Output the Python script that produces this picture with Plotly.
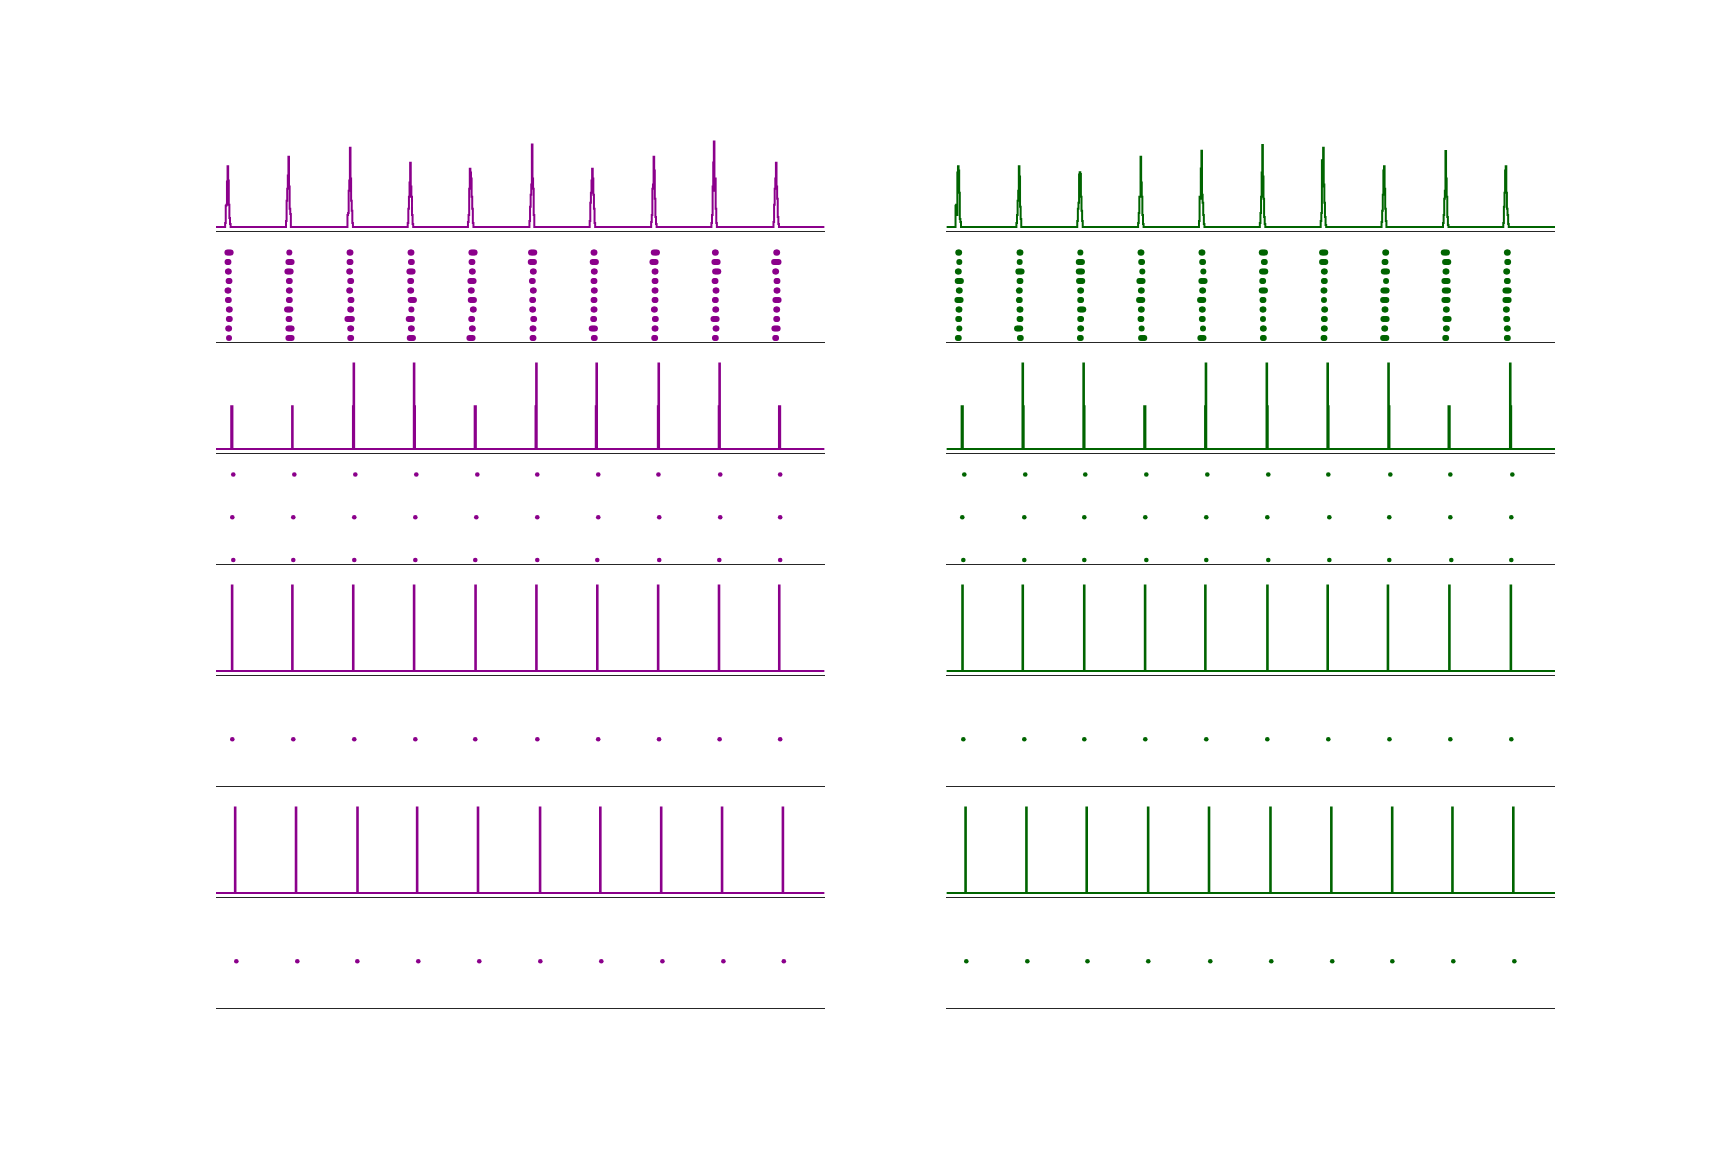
import numpy as np
import plotly.graph_objects as go

# ---------------- data (times in ms, 0..1000) ----------------
T_END = 1000
colors = ["#8B008B", "#006400"]

# Row 1: population PSTH (Hz), 1-ms bins; each peak = 11 bins starting at centre-5
psth1_centers = [
    [19, 119, 220, 319, 418, 519, 618, 719, 818, 920],
    [19, 119, 219, 319, 419, 519, 619, 719, 820, 919],
]
psth1_peaks = [
    [
        [0, 20, 105, 110, 225, 301, 230, 110, 45, 15, 0],
        [0, 30, 130, 190, 255, 348, 200, 90, 65, 0, 0],
        [0, 60, 70, 180, 230, 393, 240, 130, 80, 20, 0],
        [0, 20, 90, 150, 220, 318, 200, 150, 60, 15, 0],
        [0, 25, 60, 190, 288, 270, 240, 150, 90, 20, 0],
        [0, 30, 100, 160, 210, 408, 240, 190, 60, 0, 0],
        [0, 30, 120, 170, 230, 288, 240, 160, 90, 20, 0],
        [0, 25, 60, 190, 210, 348, 280, 140, 50, 15, 0],
        [0, 20, 60, 200, 320, 423, 180, 240, 90, 20, 0],
        [0, 25, 110, 190, 240, 318, 200, 140, 50, 15, 0],
    ],
    [
        [0, 105, 110, 60, 270, 301, 280, 170, 40, 25, 0],
        [0, 20, 60, 130, 180, 301, 250, 100, 40, 0, 0],
        [0, 30, 90, 120, 260, 271, 262, 150, 80, 30, 0],
        [0, 20, 70, 150, 150, 348, 220, 150, 60, 15, 0],
        [0, 30, 150, 140, 290, 378, 160, 120, 60, 15, 0],
        [0, 20, 70, 150, 270, 406, 250, 140, 50, 15, 0],
        [0, 30, 70, 330, 200, 393, 210, 120, 50, 10, 0],
        [0, 25, 80, 160, 280, 301, 190, 90, 30, 0, 0],
        [0, 20, 60, 140, 180, 376, 240, 150, 50, 10, 0],
        [0, 20, 100, 170, 280, 301, 170, 90, 60, 15, 0],
    ],
]

# Row 2: 10-trial raster. per cycle: spike-centre of trials listed top (trial 9) -> bottom (trial 0)
raster10_centers = [
    [
        [21.4, 19.7, 20.3, 21.4, 19.7, 20.3, 21.9, 21.9, 20.8, 21.4],
        [120.5, 121.6, 120.0, 120.5, 120.5, 120.5, 119.4, 120.0, 121.6, 121.6],
        [220.2, 220.2, 219.6, 221.3, 219.6, 221.8, 221.3, 219.6, 221.3, 221.3],
        [320.4, 321.0, 320.4, 319.9, 319.9, 322.6, 321.0, 319.3, 321.0, 321.0],
        [422.3, 420.6, 421.2, 420.6, 419.5, 421.2, 422.8, 420.1, 421.2, 419.0],
        [520.3, 519.8, 521.4, 519.8, 521.4, 520.3, 520.3, 522.0, 520.9, 520.9],
        [621.1, 621.6, 621.6, 621.1, 621.6, 621.1, 621.1, 620.5, 620.0, 621.6],
        [721.9, 719.7, 721.4, 721.4, 721.4, 721.4, 720.3, 721.9, 721.4, 720.8],
        [820.5, 821.6, 822.7, 820.0, 821.6, 820.5, 821.1, 820.0, 821.6, 820.5],
        [921.3, 920.7, 919.6, 921.8, 921.8, 921.8, 921.3, 921.3, 920.2, 919.6],
    ],
    [
        [20.2, 21.2, 19.6, 21.2, 21.2, 20.7, 20.7, 20.2, 21.2, 19.6],
        [120.9, 120.4, 120.9, 120.9, 119.8, 119.8, 120.9, 120.9, 118.7, 121.5],
        [220.1, 220.1, 220.1, 220.6, 220.6, 220.6, 222.3, 220.6, 220.6, 220.1],
        [319.7, 320.8, 321.9, 319.7, 320.3, 319.2, 320.3, 319.7, 320.8, 322.5],
        [419.9, 421.0, 422.2, 421.6, 421.0, 419.4, 420.5, 420.5, 421.6, 419.9],
        [520.8, 522.4, 521.3, 519.7, 520.8, 520.2, 520.2, 520.2, 520.8, 520.8],
        [619.9, 619.9, 621.0, 621.0, 620.4, 620.4, 621.5, 621.0, 621.0, 620.4],
        [721.8, 720.7, 721.3, 722.4, 720.7, 720.2, 720.7, 720.7, 720.2, 720.2],
        [819.8, 822.0, 820.9, 820.9, 821.5, 820.9, 821.5, 822.6, 821.5, 820.4],
        [921.7, 922.3, 920.6, 921.7, 921.2, 921.2, 920.1, 920.6, 921.7, 921.7],
    ],
]
# burst kind per dot: S single spike, N tight pair, W 3-spike burst, X 4-spike burst
raster10_kinds = [
    ["WNNNNNNNNS", "SWWNNNWNWW", "NNNNNNNXNN", "NNWNNWSWNW", "WNNWNWNNNW",
     "WWNNNNNNNN", "NWNNNNNNWN", "WWNNNNNNNN", "NWWNNNNWNN", "NXNNNWNNWN"],
    ["NSNWNWNNSN", "NSWNNNNNWN", "SWWWNNWNNN", "NNSWNWNNSW", "NNSWNWNNSW",
     "WNWNWNNSNN", "WWNNNSNNNN", "NNWSWWNWNW", "WWNWWWNWNN", "NNNNWWNNNN"],
]
burst_offsets = {"S": [0.0], "N": [-0.7, 0.7], "W": [-2.6, 0.0, 2.6],
                 "X": [-3.6, -1.2, 1.2, 3.6]}

# Row 3: PSTH of 3-trial raster (spike count per 1-ms bin)
psth3_bins = [
    [25, 26, 125, 225, 226, 325, 326, 425, 426, 525, 526, 624, 625, 726, 727, 826, 827, 925, 926],
    [25, 26, 125, 126, 225, 226, 325, 326, 425, 426, 526, 527, 626, 627, 726, 727, 825, 826, 926, 927],
]
psth3_counts = [
    [1, 1, 1, 1, 2, 2, 1, 1, 1, 1, 2, 1, 2, 1, 2, 1, 2, 1, 1],
    [1, 1, 2, 1, 2, 1, 1, 1, 1, 2, 2, 1, 2, 1, 2, 1, 1, 1, 2, 1],
]

# Row 4: 3-trial raster (trial 2 top, trial 1, trial 0 bottom)
raster3 = [
    [
        [28.4, 128.7, 228.9, 329.1, 429.4, 527.9, 628.1, 727.0, 828.5, 927.0],
        [26.8, 127.0, 227.2, 327.5, 427.7, 527.9, 628.1, 728.3, 828.5, 927.0],
        [28.4, 127.0, 227.2, 327.5, 426.0, 527.9, 626.5, 728.3, 827.0, 927.0],
    ],
    [
        [29.4, 129.6, 228.2, 328.5, 428.7, 528.9, 627.5, 729.4, 828.0, 929.9],
        [26.1, 128.0, 226.6, 326.8, 427.0, 527.3, 629.2, 727.7, 828.0, 928.2],
        [27.8, 128.0, 226.6, 328.5, 427.0, 528.9, 629.2, 727.7, 829.6, 928.2],
    ],
]

# Row 5: PSTH of single-trial raster (1-ms bins holding one spike)
psth5_bins = [
    [26, 125, 225, 325, 426, 526, 626, 726, 826, 925],
    [26, 125, 226, 326, 425, 527, 626, 725, 826, 927],
]
# Row 6: single-trial raster
raster1a = [
    [26.8, 127.0, 227.2, 327.5, 426.0, 528.0, 628.0, 728.0, 827.5, 927.0],
    [27.8, 128.0, 226.6, 326.8, 427.0, 527.3, 627.5, 728.0, 828.0, 928.2],
]
# Row 7: PSTH of output neuron
psth7_bins = [
    [31, 131, 232, 330, 430, 532, 631, 731, 831, 931],
    [31, 131, 230, 331, 431, 532, 632, 732, 831, 931],
]
# Row 8: output neuron spikes
raster1b = [
    [33.4, 133.6, 232.2, 332.4, 432.6, 532.9, 633.1, 733.5, 833.7, 933.0],
    [32.7, 133.0, 231.8, 331.7, 433.6, 533.8, 634.0, 732.7, 832.9, 933.2],
]

# ---------------- layout geometry (pixels) ----------------
W, H = 1728, 1152
col_x = [(216.0, 824.6), (946.4, 1555.0)]
row_bottom = [231.3 + 111.0 * r for r in range(8)]
AX_H = 94.0

fig = go.Figure()


def ax_id(r, c):
    return r * 2 + c + 1


def add_line(r, c, x, y):
    i = ax_id(r, c)
    fig.add_trace(go.Scatter(x=x, y=y, mode="lines",
                             line=dict(color=colors[c], width=2.0, shape="hv"),
                             xaxis=f"x{i}", yaxis=f"y{i}",
                             showlegend=False, hoverinfo="skip"))


def add_dots(r, c, x, y, size):
    i = ax_id(r, c)
    fig.add_trace(go.Scatter(x=x, y=y, mode="markers",
                             marker=dict(color=colors[c], size=size, line=dict(width=0)),
                             xaxis=f"x{i}", yaxis=f"y{i}",
                             showlegend=False, hoverinfo="skip", cliponaxis=False))


bins = np.arange(0, T_END + 1)

for c in range(2):
    # row 1
    rate = np.zeros(T_END + 1)
    for ctr, vals in zip(psth1_centers[c], psth1_peaks[c]):
        rate[ctr - 5: ctr + 6] = vals
    add_line(0, c, bins, rate)

    # row 2
    xs, ys = [], []
    for cyc in range(10):
        for j in range(10):
            trial = 9 - j
            ctr = raster10_centers[c][cyc][j]
            for off in burst_offsets[raster10_kinds[c][cyc][j]]:
                xs.append(ctr + off); ys.append(trial)
    add_dots(1, c, xs, ys, 6.0)

    # row 3
    cnt = np.zeros(T_END + 1)
    cnt[psth3_bins[c]] = psth3_counts[c]
    add_line(2, c, bins, cnt)

    # row 4
    xs, ys = [], []
    for j in range(3):
        xs += raster3[c][j]; ys += [2 - j] * len(raster3[c][j])
    add_dots(3, c, xs, ys, 4.6)

    # row 5
    cnt = np.zeros(T_END + 1)
    cnt[psth5_bins[c]] = 1
    add_line(4, c, bins, cnt)

    # row 6
    add_dots(5, c, raster1a[c], [0] * len(raster1a[c]), 4.6)

    # row 7
    cnt = np.zeros(T_END + 1)
    cnt[psth7_bins[c]] = 1
    add_line(6, c, bins, cnt)

    # row 8
    add_dots(7, c, raster1b[c], [0] * len(raster1b[c]), 4.6)

# y ranges (matplotlib-like 5% margins, shared per row)
m1 = max(max(max(p) for p in psth1_peaks[c]) for c in range(2))
m3 = max(max(psth3_counts[c]) for c in range(2))
yranges = [
    [-0.05 * m1, 1.05 * m1],
    [-0.45, 9.45],
    [-0.05 * m3, 1.05 * m3],
    [-0.1, 2.1],
    [-0.05, 1.05],
    [-1, 1],
    [-0.05, 1.05],
    [-1, 1],
]

layout = dict(width=W, height=H, margin=dict(l=0, r=0, t=0, b=0),
              paper_bgcolor="white", plot_bgcolor="white", showlegend=False)
for r in range(8):
    for c in range(2):
        i = ax_id(r, c)
        x0, x1 = col_x[c]
        yb = row_bottom[r]
        layout[f"xaxis{i}"] = dict(
            domain=[x0 / W, x1 / W], range=[0, T_END], anchor=f"y{i}",
            showline=True, linecolor="#262626", linewidth=1.1,
            showticklabels=False, ticks="", showgrid=False, zeroline=False,
            fixedrange=True)
        layout[f"yaxis{i}"] = dict(
            domain=[(H - yb) / H, (H - yb + AX_H) / H], range=yranges[r],
            anchor=f"x{i}", visible=False, showgrid=False, zeroline=False,
            fixedrange=True)
fig.update_layout(**layout)

fig.write_html("out.html")
